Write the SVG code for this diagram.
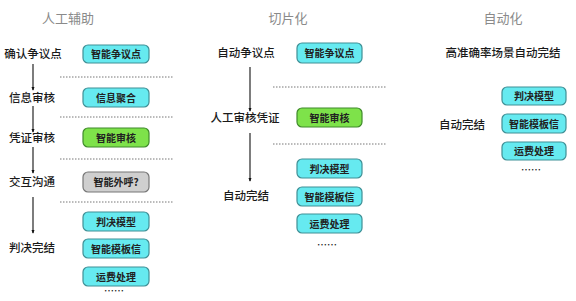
<svg xmlns="http://www.w3.org/2000/svg" width="576" height="301" viewBox="0 0 576 301">
<style>
text{font-family:"Noto Sans CJK SC","Noto Sans CJK TC",sans-serif;fill:#1a1a1a}
.title{font-size:13px;fill:#8a8a8a;text-anchor:middle}
.lbl{font-size:11.5px;text-anchor:middle;font-weight:500}
.bt{font-size:10px;text-anchor:middle;font-weight:bold;fill:#222}
.cy{fill:#66eaf0;stroke:#3f8f95;stroke-width:1.2}
.gr{fill:#7ee24a;stroke:#3f8a2a;stroke-width:1.2}
.gy{fill:#cfcfcf;stroke:#777;stroke-width:1.2}
.dot{stroke:#777;stroke-width:1;stroke-dasharray:1.5 1.5;fill:none}
.arr{stroke:#111;stroke-width:1.1;fill:none;marker-end:url(#ah)}
</style>
<defs>
<marker id="ah" viewBox="0 0 6 6" refX="5" refY="3" markerWidth="3.5" markerHeight="3.5" orient="auto">
<path d="M0,0.5 L6,3 L0,5.5 z" fill="#111"/>
</marker>
</defs>
<rect width="576" height="301" fill="#fff"/>
<g id="titles">
<text class="title" x="68" y="23">人工辅助</text>
<text class="title" x="288" y="23">切片化</text>
<text class="title" x="503" y="23">自动化</text>
</g>
<g id="connectors">
<line class="arr" x1="33" y1="64" x2="33" y2="90"/>
<line class="arr" x1="33" y1="106" x2="33" y2="132"/>
<line class="arr" x1="33" y1="147" x2="33" y2="173"/>
<line class="arr" x1="33" y1="197" x2="33" y2="233"/>
<line class="arr" x1="250" y1="67" x2="250" y2="111"/>
<line class="arr" x1="250" y1="133" x2="250" y2="181"/>
</g>
<g id="dividers">
<line class="dot" x1="60" y1="77" x2="173" y2="77"/>
<line class="dot" x1="60" y1="117" x2="173" y2="117"/>
<line class="dot" x1="60" y1="159" x2="173" y2="159"/>
<line class="dot" x1="60" y1="202" x2="173" y2="202"/>
<line class="dot" x1="273" y1="87" x2="386" y2="87"/>
<line class="dot" x1="273" y1="144" x2="386" y2="144"/>
</g>
<g id="left-labels">
<text class="lbl" x="33" y="58">确认争议点</text>
<text class="lbl" x="32" y="102">信息审核</text>
<text class="lbl" x="32" y="142">凭证审核</text>
<text class="lbl" x="32" y="186">交互沟通</text>
<text class="lbl" x="32" y="252">判决完结</text>
</g>
<g id="l-box1"><rect class="cy" x="83" y="45" width="66" height="18" rx="5"/><text class="bt" x="116" y="58">智能争议点</text></g>
<g id="l-box2"><rect class="cy" x="83" y="88" width="66" height="19" rx="5"/><text class="bt" x="116" y="101.5">信息聚合</text></g>
<g id="l-box3"><rect class="gr" x="83" y="128" width="66" height="19" rx="5"/><text class="bt" x="116" y="141.5">智能审核</text></g>
<g id="l-box4"><rect class="gy" x="83" y="172" width="66" height="20" rx="5"/><text class="bt" x="116" y="186">智能外呼?</text></g>
<g id="l-box5"><rect class="cy" x="83" y="212" width="66" height="19" rx="5"/><text class="bt" x="116" y="225.5">判决模型</text></g>
<g id="l-box6"><rect class="cy" x="83" y="239" width="66" height="19" rx="5"/><text class="bt" x="116" y="252.5">智能模板信</text></g>
<g id="l-box7"><rect class="cy" x="83" y="267" width="66" height="19" rx="5"/><text class="bt" x="116" y="280.5">运费处理</text></g>
<text class="lbl" x="114" y="295" style="font-size:10px">……</text>
<g id="mid-labels">
<text class="lbl" x="246" y="57">自动争议点</text>
<text class="lbl" x="245" y="122">人工审核凭证</text>
<text class="lbl" x="246" y="200">自动完结</text>
</g>
<g id="m-box1"><rect class="cy" x="297" y="43" width="65" height="20" rx="5"/><text class="bt" x="329.5" y="57">智能争议点</text></g>
<g id="m-box2"><rect class="gr" x="297" y="108" width="65" height="19" rx="5"/><text class="bt" x="329.5" y="121.5">智能审核</text></g>
<g id="m-box3"><rect class="cy" x="297" y="159" width="65" height="19" rx="5"/><text class="bt" x="329.5" y="172.5">判决模型</text></g>
<g id="m-box4"><rect class="cy" x="297" y="187" width="65" height="19" rx="5"/><text class="bt" x="329.5" y="200.5">智能模板信</text></g>
<g id="m-box5"><rect class="cy" x="297" y="214" width="65" height="19" rx="5"/><text class="bt" x="329.5" y="227.5">运费处理</text></g>
<text class="lbl" x="327" y="249" style="font-size:10px">……</text>
<g id="right-labels">
<text class="lbl" x="503" y="57">高准确率场景自动完结</text>
<text class="lbl" x="462" y="129">自动完结</text>
</g>
<g id="r-box1"><rect class="cy" x="502" y="87" width="64" height="18" rx="5"/><text class="bt" x="534" y="100">判决模型</text></g>
<g id="r-box2"><rect class="cy" x="502" y="114" width="64" height="19" rx="5"/><text class="bt" x="534" y="127.5">智能模板信</text></g>
<g id="r-box3"><rect class="cy" x="502" y="142" width="64" height="18" rx="5"/><text class="bt" x="534" y="155">运费处理</text></g>
<text class="lbl" x="531" y="174" style="font-size:10px">……</text>
</svg>
